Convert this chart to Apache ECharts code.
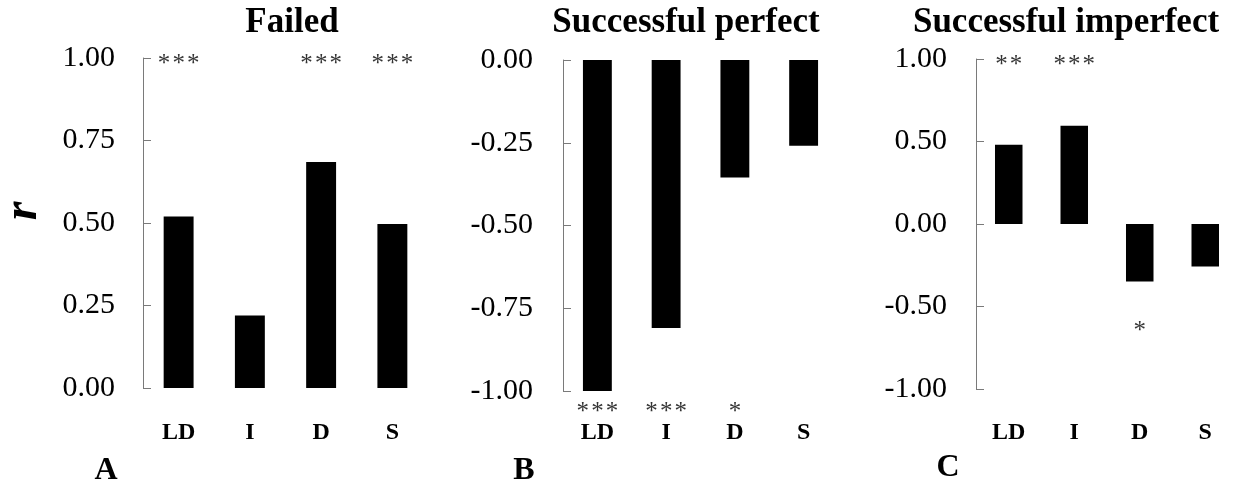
<!DOCTYPE html>
<html>
<head>
<meta charset="utf-8">
<script src="https://cdn.jsdelivr.net/npm/echarts@6/dist/echarts.min.js"></script>
<style>
html,body{margin:0;padding:0;background:#fff;}
#chart{width:1238px;height:484px;}
</style>
</head>
<body>
<div id="chart"></div>
<script>
// ---- data ----
const categories = ['LD', 'I', 'D', 'S'];
const panelTitles = ['Failed', 'Successful perfect', 'Successful imperfect'];
const panelLetters = ['A', 'B', 'C'];
const failedValues = [0.52, 0.22, 0.685, 0.497];
const perfectValues = [-1.00, -0.81, -0.355, -0.259];
const imperfectValues = [0.48, 0.595, -0.348, -0.257];
const failedSig = ['***', '', '***', '***'];
const perfectSig = ['***', '***', '*', ''];
const imperfectSig = ['**', '***', '*', ''];
// y-positions (data units) where significance marks are written
const failedSigY = [0.982, 0.982, 0.982, 0.982];
const perfectSigY = [-1.066, -1.066, -1.066, -1.066];
const imperfectSigY = [0.962, 0.962, -0.652, -0.652];
const axisA = {min: 0, max: 1, interval: 0.25};
const axisB = {min: -1, max: 0, interval: 0.25};
const axisC = {min: -1, max: 1, interval: 0.5};

const FONT = '"Liberation Serif", "Times New Roman", serif';

const grids = [
  {left: 143, top: 58, width: 285, height: 330},
  {left: 563, top: 60, width: 275, height: 331},
  {left: 976, top: 59, width: 274, height: 330}
];
const labelMargins = [[28, 33], [30, 30], [29, 32]];
const yScales = [axisA, axisB, axisC];
const values = [failedValues, perfectValues, imperfectValues];
const sigs = [failedSig, perfectSig, imperfectSig];
const sigYs = [failedSigY, perfectSigY, imperfectSigY];

const xAxes = [], yAxes = [], series = [];
for (let i = 0; i < 3; i++) {
  xAxes.push({
    type: 'category', gridIndex: i, data: categories, position: 'bottom',
    axisLine: {show: false, onZero: false}, axisTick: {show: false},
    axisLabel: {fontFamily: FONT, fontWeight: 'bold', fontSize: 24, color: '#000', margin: labelMargins[i][1]},
    splitLine: {show: false}
  });
  yAxes.push({
    type: 'value', gridIndex: i, min: yScales[i].min, max: yScales[i].max, interval: yScales[i].interval,
    axisLine: {show: true, lineStyle: {color: '#7a7a7a', width: 1}},
    axisTick: {show: true, inside: true, length: 8, lineStyle: {color: '#7a7a7a', width: 1}},
    axisLabel: {fontFamily: FONT, fontSize: 30, color: '#000', margin: labelMargins[i][0],
      formatter: v => v.toFixed(2)},
    splitLine: {show: false}
  });
  series.push({
    type: 'bar', xAxisIndex: i, yAxisIndex: i, data: values[i], barWidth: '42%',
    itemStyle: {color: '#000'}, silent: true
  });
  series.push({
    type: 'scatter', xAxisIndex: i, yAxisIndex: i, symbolSize: 0, clip: false, silent: true,
    data: categories.map((c, k) => ({value: [k, sigYs[i][k]], name: sigs[i][k]})),
    label: {show: true, position: 'inside', formatter: p => p.name.split('').join('\u200A'),
      fontFamily: FONT, fontSize: 25, color: '#000', align: 'center', verticalAlign: 'middle'}
  });
}

const titleX = [292, 686, 1066];
const letterPos = [[106, 471], [524, 471], [948, 468]];
const graphics = [];
for (let i = 0; i < 3; i++) {
  graphics.push({type: 'text', x: titleX[i], y: 23, style: {text: panelTitles[i], font: 'bold 35px ' + FONT, fill: '#000', textAlign: 'center', textVerticalAlign: 'middle'}});
  graphics.push({type: 'text', x: letterPos[i][0], y: letterPos[i][1], style: {text: panelLetters[i], font: 'bold 32px ' + FONT, fill: '#000', textAlign: 'center', textVerticalAlign: 'middle'}});
}
graphics.push({type: 'text', x: 24, y: 211, rotation: Math.PI / 2, style: {text: 'r', font: 'italic bold 48px ' + FONT, fill: '#000', textAlign: 'center', textVerticalAlign: 'middle'}});

const chart = echarts.init(document.getElementById('chart'), null, {renderer: 'canvas'});
chart.setOption({
  animation: false,
  backgroundColor: '#fff',
  grid: grids,
  xAxis: xAxes,
  yAxis: yAxes,
  series: series,
  graphic: graphics
});
</script>
</body>
</html>
